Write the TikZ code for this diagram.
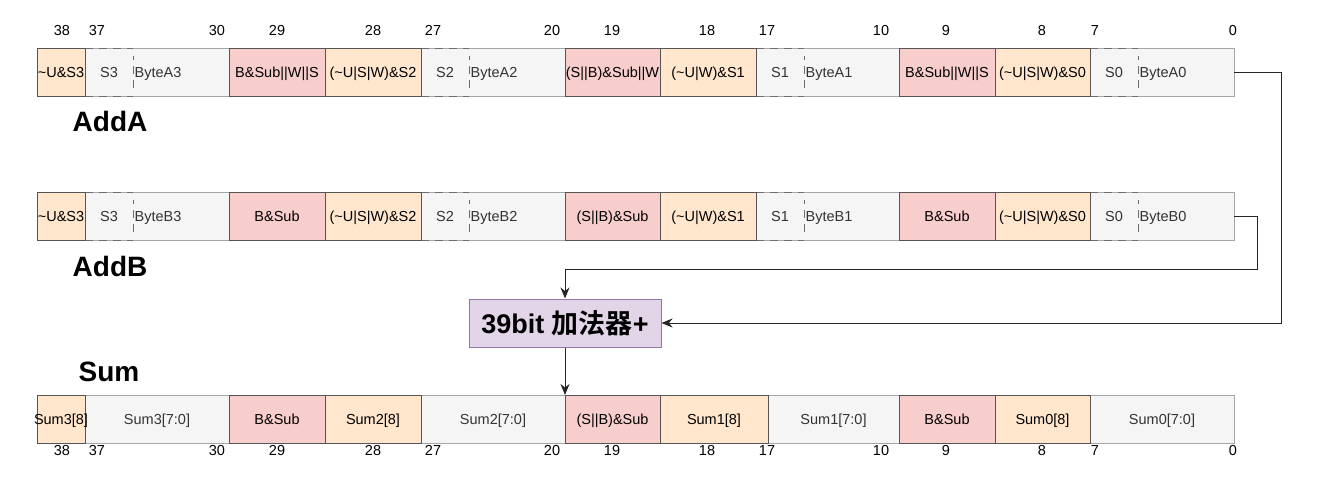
\documentclass[tikz,border=0pt]{standalone}
\usepackage{fontspec}
\setmainfont{Liberation Sans}
\newfontfamily\cjk{Noto Sans CJK SC}[BoldFont={Noto Sans CJK SC Bold}]
\usetikzlibrary{calc,arrows.meta}
\definecolor{orangef}{HTML}{FFE6CC}
\definecolor{redf}{HTML}{F8CECC}
\definecolor{greyf}{HTML}{F5F5F5}
\definecolor{greyline}{HTML}{A6A6A6}
\definecolor{greytext}{HTML}{333333}
\definecolor{cellline}{HTML}{555555}
\definecolor{dashc}{HTML}{6E6E6E}
\definecolor{purplef}{HTML}{E1D5E7}
\definecolor{purplel}{HTML}{9673A6}
\newcommand\cellfont{\fontsize{14.5}{17}\selectfont}
\newcommand\mybyte[5]{%
  \node[gc, minimum width=144pt] (#1) at (#2,#3) {};
  \node[sbox] (#1s) at ($(#1.west)+(24,0)$) {#4};
  \draw[dashline] (#1s.north west) -- (#1s.north east) (#1s.south west) -- (#1s.south east)
     ([yshift=-16pt]#1s.east) -- ([yshift=16pt]#1s.east);
  \node[gtext, anchor=west] (#1t) at ([xshift=1.5pt]#1s.east) {#5};
}
\tikzset{
  cell/.style={draw=cellline, line width=1pt, minimum height=48pt, inner sep=0pt, outer sep=0pt, font=\cellfont, anchor=west, text height=12.5pt, text depth=2.5pt},
  oc/.style={cell, fill=orangef},
  rc/.style={cell, fill=redf},
  gc/.style={cell, fill=greyf, draw=greyline, text=greytext},
  sbox/.style={minimum width=48pt, minimum height=48pt, inner sep=0pt, outer sep=0pt, font=\cellfont, text=greytext, text height=12.5pt, text depth=2.5pt},
  gtext/.style={inner sep=0pt, font=\cellfont, text=greytext, text height=12.5pt, text depth=2.5pt},
  dashline/.style={draw=dashc, line width=1pt, dash pattern=on 8pt off 6pt},
  bitnum/.style={inner sep=0pt, anchor=base, font=\fontsize{14.5}{17}\selectfont},
  title/.style={inner sep=0pt, font=\fontsize{28}{32}\selectfont\bfseries},
  conn/.style={draw=black!85, line width=1pt, -{Stealth[length=11pt,width=9pt,inset=3.5pt]}},
}
\begin{document}
\begin{tikzpicture}[x=1pt,y=-1pt]
\useasboundingbox (0,0) rectangle (1326,479);
% ---------- Row A ----------
\mybyte{ba3}{85}{72}{S3}{ByteA3}
\mybyte{ba2}{421}{72}{S2}{ByteA2}
\mybyte{ba1}{756}{72}{S1}{ByteA1}
\mybyte{ba0}{1090}{72}{S0}{ByteA0}
\node[oc, minimum width=48pt] (a38) at (37,72) {\textasciitilde U\&S3};
\node[rc, minimum width=96pt] (a29) at (229,72) {B\&Sub||W||S};
\node[oc, minimum width=96pt] (a28) at (325,72) {(\textasciitilde U|S|W)\&S2};
\node[rc, minimum width=95pt] (a19) at (565,72) {(S||B)\&Sub||W};
\node[oc, minimum width=96pt] (a18) at (660,72) {(\textasciitilde U|W)\&S1};
\node[rc, minimum width=96pt] (a9) at (899,72) {B\&Sub||W||S};
\node[oc, minimum width=95pt] (a8) at (995,72) {(\textasciitilde U|S|W)\&S0};
% ---------- Row B ----------
\mybyte{bb3}{85}{216}{S3}{ByteB3}
\mybyte{bb2}{421}{216}{S2}{ByteB2}
\mybyte{bb1}{756}{216}{S1}{ByteB1}
\mybyte{bb0}{1090}{216}{S0}{ByteB0}
\node[oc, minimum width=48pt] (b38) at (37,216) {\textasciitilde U\&S3};
\node[rc, minimum width=96pt] (b29) at (229,216) {B\&Sub};
\node[oc, minimum width=96pt] (b28) at (325,216) {(\textasciitilde U|S|W)\&S2};
\node[rc, minimum width=95pt] (b19) at (565,216) {(S||B)\&Sub};
\node[oc, minimum width=96pt] (b18) at (660,216) {(\textasciitilde U|W)\&S1};
\node[rc, minimum width=96pt] (b9) at (899,216) {B\&Sub};
\node[oc, minimum width=95pt] (b8) at (995,216) {(\textasciitilde U|S|W)\&S0};
% ---------- Sum row ----------
\node[gc, minimum width=144pt] (s37) at (85,419) {Sum3[7:0]};
\node[gc, minimum width=144pt] (s27) at (421,419) {Sum2[7:0]};
\node[gc, minimum width=131pt] (s17) at (768,419) {Sum1[7:0]};
\node[gc, minimum width=144pt] (s7) at (1090,419) {Sum0[7:0]};
\node[oc, minimum width=48pt] (s38) at (37,419) {\makebox[0pt]{Sum3[8]}};
\node[rc, minimum width=96pt] (s29) at (229,419) {B\&Sub};
\node[oc, minimum width=96pt] (s28) at (325,419) {Sum2[8]};
\node[rc, minimum width=95pt] (s19) at (565,419) {(S||B)\&Sub};
\node[oc, minimum width=108pt] (s18) at (660,419) {Sum1[8]};
\node[rc, minimum width=96pt] (s9) at (899,419) {B\&Sub};
\node[oc, minimum width=95pt] (s8) at (995,419) {Sum0[8]};
% ---------- bit numbers ----------
\foreach \n/\x in {38/62,37/97,30/217,29/277,28/373,27/433,20/552,19/612,18/707,17/767,10/881,9/946,8/1042,7/1095,0/1233}{
  \node[bitnum] (t\n) at (\x,35.5) {\n};
  \node[bitnum] (u\n) at (\x,455) {\n};
}
% ---------- titles ----------
\node[title] (addA) at (110,121) {AddA};
\node[title] (addB) at (110,266) {AddB};
\node[title] (sumt) at (109,372) {Sum};
% ---------- adder ----------
\node[draw=purplel, fill=purplef, line width=1pt, minimum width=192pt, minimum height=48pt, inner sep=0pt,
      font=\fontsize{27}{31}\selectfont\bfseries] (adder) at (565,323) {39bit {\cjk 加法器}+};
% ---------- connectors ----------
\draw[conn] (ba0.east) -- ++(47,0) |- (adder.east);
\draw[conn] (bb0.east) -- ++(23,0) -- ++(0,53) -| (adder.north);
\draw[conn] (adder.south) -- (s19.north west);
\end{tikzpicture}
\end{document}
